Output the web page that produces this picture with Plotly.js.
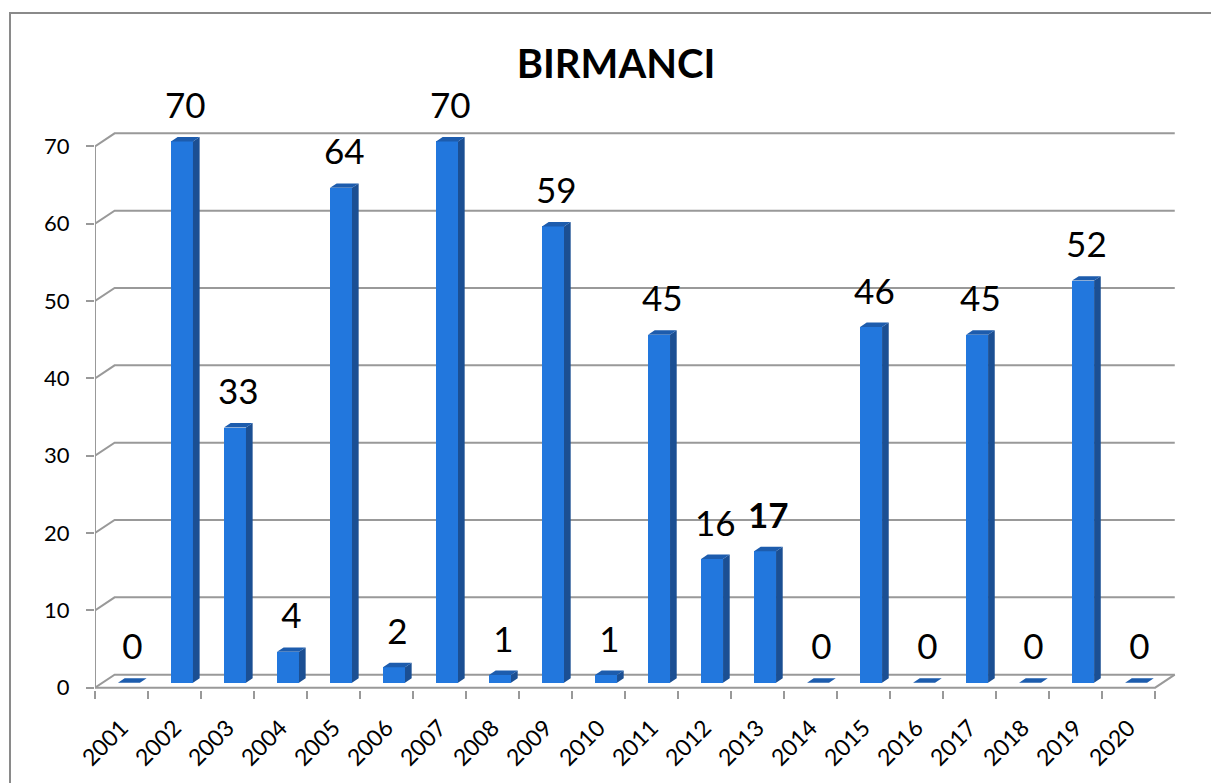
<!DOCTYPE html>
<html>
<head>
<meta charset="utf-8">
<script src="https://cdn.plot.ly/plotly-3.0.1.min.js"></script>
<style>
  html, body { margin: 0; padding: 0; background: #fff; overflow: hidden; }
  #chart { position: absolute; left: 0; top: 0; width: 1211px; height: 783px; }
  #frame { position: absolute; left: 9px; top: 12px; width: 1300px; height: 900px;
           border-left: 2px solid #8a8a8a; border-top: 2px solid #8a8a8a; pointer-events: none; }
</style>
</head>
<body>
<div id="chart"></div>
<div id="frame"></div>
<script>
// ---- data ----
const years = ['2001','2002','2003','2004','2005','2006','2007','2008','2009','2010',
               '2011','2012','2013','2014','2015','2016','2017','2018','2019','2020'];
const values = [0, 70, 33, 4, 64, 2, 70, 1, 59, 1, 45, 16, 17, 0, 46, 0, 45, 0, 52, 0];
const yTickValues = [0, 10, 20, 30, 40, 50, 60, 70];
const boldLabelYears = ['2013'];
const chartTitle = 'BIRMANCI';

// ---- 3D look (styling geometry, in axis units) ----
const wallDX = 0.37, wallDY = 1.68;      // depth of floor / back wall
const barD0 = 0.38, barD1 = 0.72;        // bar depth range as fraction of wall depth
const barHalf = 0.2075;                  // half width of bar front face
const labelGap = 1.6;

const fx = barD0 * wallDX, fy = barD0 * wallDY;                 // front face shift
const sx = (barD1 - barD0) * wallDX, sy = (barD1 - barD0) * wallDY; // side/top depth
const xs = years.map((_, i) => i);
const frontX = xs.map(i => i + fx);

// side & top polygons
const sideX = [], sideY = [], topX = [], topY = [];
values.forEach((v, i) => {
  const xl = i + fx - barHalf, xr = i + fx + barHalf, b = fy;
  sideX.push(xr, xr + sx, xr + sx, xr, xr, null);
  sideY.push(b, b + sy, b + sy + v, b + v, b, null);
  topX.push(xl, xr, xr + sx, xl + sx, xl, null);
  topY.push(b + v, b + v, b + v + sy, b + v + sy, b + v, null);
});

const labelText = values.map((v, i) => boldLabelYears.includes(years[i]) ? '<b>' + v + '</b>' : String(v));
const fontFam = 'Lato, "Open Sans", sans-serif';

const traces = [
  { type: 'bar', x: frontX, y: values, base: fy, width: 2 * barHalf,
    marker: { color: '#2277dd', line: { width: 0 } }, hoverinfo: 'skip', showlegend: false },
  { type: 'scatter', mode: 'lines', x: sideX, y: sideY, fill: 'toself', fillcolor: '#1b4f93',
    line: { width: 0, color: '#1b4f93' }, hoverinfo: 'skip', showlegend: false },
  { type: 'scatter', mode: 'lines', x: topX, y: topY, fill: 'toself', fillcolor: '#1d5cad',
    line: { width: 0, color: '#1d5cad' }, hoverinfo: 'skip', showlegend: false },
  { type: 'scatter', mode: 'text', x: frontX.map(x => x + sx / 2), y: values.map(v => v + fy + sy / 2 + labelGap),
    text: labelText, textposition: 'top center', cliponaxis: false,
    textfont: { family: fontFam, size: 35, color: '#000' },
    hoverinfo: 'skip', showlegend: false }
];

// wall gridlines & floor
const gridColor = '#999999';
const shapes = [];
const xL = -0.5, xR = years.length - 0.5;
yTickValues.forEach(v => {
  shapes.push({ type: 'path', xref: 'x', yref: 'y', layer: 'below',
    path: `M ${xL},${v} L ${xL + wallDX},${v + wallDY} L ${xR + wallDX},${v + wallDY}`,
    line: { color: gridColor, width: 2 } });
});
shapes.push({ type: 'path', xref: 'x', yref: 'y', layer: 'below',
  path: `M ${xL},0 L ${xR},0 L ${xR + wallDX},${wallDY}`, line: { color: gridColor, width: 2 } });
shapes.push({ type: 'line', xref: 'x', yref: 'y', layer: 'below',
  x0: xL, x1: xL, y0: 0, y1: yTickValues[yTickValues.length - 1], line: { color: gridColor, width: 2 } });

const layout = {
  width: 1211, height: 783,
  margin: { l: 95, r: 32, t: 69, b: 93 },
  paper_bgcolor: '#fff', plot_bgcolor: 'rgba(0,0,0,0)',
  showlegend: false, hovermode: false,
  title: { text: '<b>' + chartTitle + '</b>', xref: 'container', yref: 'container',
           x: 616 / 1211, xanchor: 'center', y: 1 - 64 / 783, yanchor: 'middle',
           font: { family: fontFam, size: 40, color: '#000' } },
  xaxis: { type: 'linear', range: [-0.5, 19.95], tickmode: 'array', tickvals: xs, ticktext: years,
           ticks: '', tickangle: -45, showgrid: false, zeroline: false, showline: false,
           ticklabelstandoff: 19,
           tickfont: { family: fontFam, size: 23, color: '#000' },
           minor: { tick0: -0.5, dtick: 1, ticks: 'outside', ticklen: 8, tickwidth: 2, tickcolor: gridColor, showgrid: false } },
  yaxis: { range: [-0.3, 80], tickmode: 'array', tickvals: yTickValues, ticks: 'outside', ticklen: 8,
           tickwidth: 2, tickcolor: gridColor, showgrid: false, zeroline: false, showline: false,
           ticklabelstandoff: 12,
           tickfont: { family: fontFam, size: 22, color: '#000' } },
  shapes: shapes,
  bargap: 0
};

Plotly.newPlot('chart', traces, layout, { staticPlot: true, displayModeBar: false });
</script>
</body>
</html>
